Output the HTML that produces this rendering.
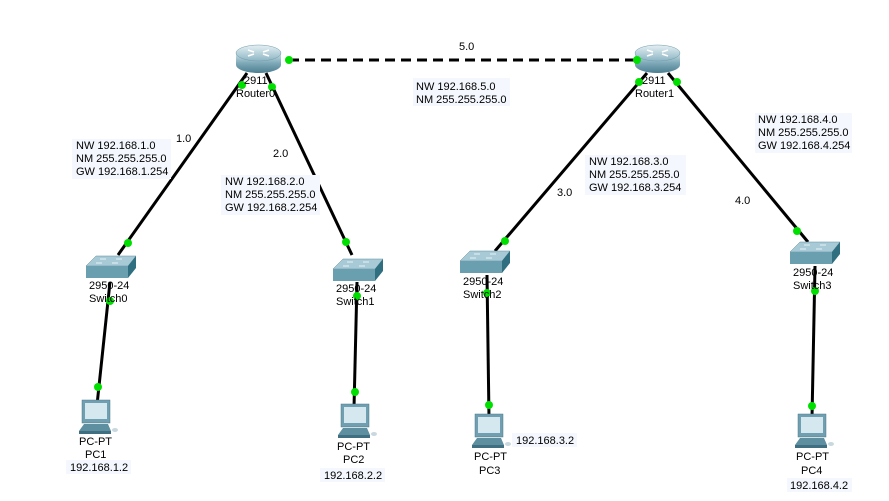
<!DOCTYPE html>
<html><head><meta charset="utf-8"><style>
body{margin:0;background:#fff}
svg text{font-family:"Liberation Sans",sans-serif;font-size:11px;fill:#000}
</style></head><body>
<svg width="889" height="496" viewBox="0 0 889 496" xmlns="http://www.w3.org/2000/svg">
<defs>
<linearGradient id="rg" x1="0" y1="0" x2="0" y2="1"><stop offset="0" stop-color="#cfe3ea"/><stop offset="0.5" stop-color="#7fa9b8"/><stop offset="1" stop-color="#4d7f91"/></linearGradient>
<linearGradient id="rt" x1="0" y1="0" x2="0" y2="1"><stop offset="0" stop-color="#e5f0f4"/><stop offset="1" stop-color="#8db5c3"/></linearGradient>
<g id="router">
<path d="M0 8 L0 20 A22.5 8 0 0 0 45 20 L45 8 Z" fill="url(#rg)"/>
<ellipse cx="22.5" cy="8" rx="22.5" ry="8" fill="url(#rt)" stroke="#6f9aa9" stroke-width="0.5"/>
<path d="M12 5 l6 2 M33 5 l-6 2 M12 11 l6 -2 M33 11 l-6 -2" stroke="#fff" stroke-width="1.5"/>
</g>
<g id="switch">
<polygon points="10,0 50,0 42,10 0,10" fill="#a8cad6" stroke="#5e8d9c" stroke-width="0.5"/>
<rect x="0" y="10" width="42" height="12" fill="#6a9fb0"/>
<polygon points="42,10 50,0 50,12 42,22" fill="#2f6f80"/>
<path d="M14 3 h6 M30 3 h6 M10 7 h6 M26 7 h6" stroke="#e8f3f6" stroke-width="1"/>
</g>
<g id="pc">
<rect x="3" y="0" width="28" height="23" fill="#6f9fb0" stroke="#4a7b8b" stroke-width="0.5"/>
<rect x="6" y="3" width="22" height="16" fill="#d6e8ef"/>
<polygon points="0,31 5,24 29,24 32,31" fill="#5d8fa0"/>
<rect x="0" y="31" width="32" height="3" fill="#3f6f80"/>
<ellipse cx="36" cy="30" rx="3" ry="2" fill="#c8d8de"/>
</g>
</defs>
<g stroke="#000" stroke-width="3" fill="none">
<line x1="289" y1="60" x2="637" y2="60" stroke-dasharray="10,6"/>
<line x1="247" y1="73" x2="118" y2="255"/>
<line x1="266" y1="73" x2="352" y2="255"/>
<line x1="647" y1="73" x2="495" y2="251"/>
<line x1="668" y1="73" x2="808" y2="242"/>
<line x1="110" y1="282" x2="97" y2="405"/>
<line x1="357" y1="282" x2="354" y2="408"/>
<line x1="487" y1="275" x2="489" y2="418"/>
<line x1="815" y1="266" x2="812" y2="418"/>
</g>
<use href="#router" x="236" y="45"/>
<use href="#router" x="635" y="45"/>
<use href="#switch" x="86" y="256"/>
<use href="#switch" x="333" y="259"/>
<use href="#switch" x="460" y="251"/>
<use href="#switch" x="790" y="242"/>
<use href="#pc" x="79" y="400"/>
<use href="#pc" x="338" y="404"/>
<use href="#pc" x="472" y="414"/>
<use href="#pc" x="795" y="414"/>
<g fill="#00e000">
<circle cx="289" cy="60" r="4"/><circle cx="637" cy="60" r="4"/>
<circle cx="242" cy="85" r="4"/><circle cx="272" cy="87" r="4"/>
<circle cx="639" cy="82" r="4"/><circle cx="677" cy="82" r="4"/>
<circle cx="128" cy="243" r="4"/><circle cx="346" cy="242" r="4"/>
<circle cx="505" cy="241" r="4"/><circle cx="797" cy="231" r="4"/>
<circle cx="110" cy="301" r="4"/><circle cx="357" cy="296" r="4"/>
<circle cx="487" cy="293" r="4"/><circle cx="815" cy="291" r="4"/>
<circle cx="98" cy="387" r="4"/><circle cx="355" cy="392" r="4"/>
<circle cx="489" cy="405" r="4"/><circle cx="812" cy="406" r="4"/>
</g>
<g fill="#f4f7fd">
<rect x="72" y="139" width="99" height="40"/><rect x="221" y="175" width="99" height="40"/>
<rect x="413" y="78" width="97" height="28"/><rect x="585" y="155" width="101" height="40"/>
<rect x="755" y="113" width="97" height="40"/>
<rect x="66" y="460" width="65" height="14"/><rect x="320" y="468" width="65" height="14"/>
<rect x="512" y="433" width="65" height="14"/><rect x="787" y="478" width="65" height="14"/>
</g>
<text x="244" y="84">2911</text><text x="236" y="97">Router0</text>
<text x="642" y="84">2911</text><text x="635" y="97">Router1</text>
<text x="459" y="50">5.0</text>
<text x="176" y="142">1.0</text><text x="273" y="157">2.0</text>
<text x="557" y="196">3.0</text><text x="735" y="204">4.0</text>
<text x="76" y="149">NW 192.168.1.0</text><text x="76" y="162">NM 255.255.255.0</text><text x="76" y="175">GW 192.168.1.254</text>
<text x="225" y="185">NW 192.168.2.0</text><text x="225" y="198">NM 255.255.255.0</text><text x="225" y="211">GW 192.168.2.254</text>
<text x="416" y="90">NW 192.168.5.0</text><text x="416" y="103">NM 255.255.255.0</text>
<text x="589" y="165">NW 192.168.3.0</text><text x="589" y="178">NM 255.255.255.0</text><text x="589" y="191">GW 192.168.3.254</text>
<text x="758" y="123">NW 192.168.4.0</text><text x="758" y="136">NM 255.255.255.0</text><text x="758" y="149">GW 192.168.4.254</text>
<text x="89" y="289">2950-24</text><text x="89" y="302">Switch0</text>
<text x="336" y="292">2950-24</text><text x="336" y="305">Switch1</text>
<text x="463" y="285">2950-24</text><text x="463" y="298">Switch2</text>
<text x="793" y="276">2950-24</text><text x="793" y="289">Switch3</text>
<text x="79" y="445">PC-PT</text><text x="85" y="458">PC1</text><text x="70" y="471">192.168.1.2</text>
<text x="337" y="450">PC-PT</text><text x="343" y="463">PC2</text><text x="324" y="479">192.168.2.2</text>
<text x="474" y="460">PC-PT</text><text x="479" y="474">PC3</text><text x="516" y="444">192.168.3.2</text>
<text x="796" y="460">PC-PT</text><text x="801" y="474">PC4</text><text x="790" y="489">192.168.4.2</text>
</svg>
</body></html>
